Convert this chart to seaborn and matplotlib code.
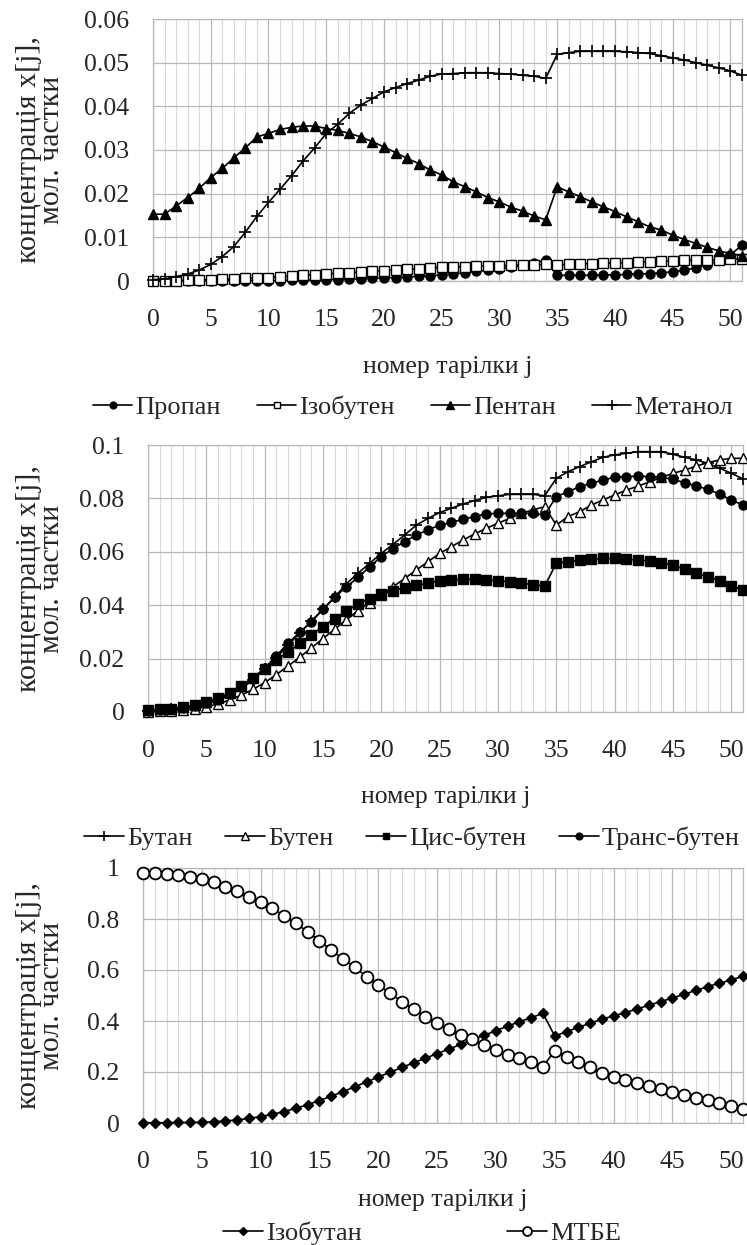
import matplotlib
matplotlib.use("Agg")
import matplotlib.pyplot as plt
from matplotlib.ticker import MultipleLocator, FixedLocator, FuncFormatter
from matplotlib.lines import Line2D
import seaborn as sns

sns.set_theme(style="white")
plt.rcParams["font.family"] = ["Liberation Serif", "DejaVu Serif"]

plates = list(range(52))
x_ticks = [0, 5, 10, 15, 20, 25, 30, 35, 40, 45, 50]

# panel 1
propan = [0.0000, 0.0000, 0.0000, 0.0001, 0.0001, 0.0001, 0.0001, 0.0001, 0.0001, 0.0001,
          0.0001, 0.0001, 0.0002, 0.0002, 0.0002, 0.0003, 0.0003, 0.0004, 0.0005, 0.0006,
          0.0007, 0.0008, 0.0009, 0.0011, 0.0012, 0.0014, 0.0016, 0.0019, 0.0022, 0.0025,
          0.0028, 0.0032, 0.0036, 0.0041, 0.0048, 0.0013, 0.0013, 0.0013, 0.0013, 0.0014,
          0.0014, 0.0015, 0.0016, 0.0017, 0.0019, 0.0021, 0.0025, 0.0030, 0.0037, 0.0047,
          0.0060, 0.0082]
izobuten = [0.0000, 0.0001, 0.0001, 0.0002, 0.0002, 0.0003, 0.0004, 0.0005, 0.0006, 0.0007,
            0.0008, 0.0010, 0.0011, 0.0013, 0.0014, 0.0016, 0.0018, 0.0019, 0.0021, 0.0023,
            0.0024, 0.0026, 0.0027, 0.0028, 0.0030, 0.0031, 0.0032, 0.0033, 0.0034, 0.0035,
            0.0035, 0.0036, 0.0037, 0.0037, 0.0038, 0.0037, 0.0038, 0.0039, 0.0040, 0.0041,
            0.0042, 0.0042, 0.0043, 0.0044, 0.0045, 0.0046, 0.0047, 0.0048, 0.0048, 0.0049,
            0.0050, 0.0050]
pentan = [0.0153, 0.0153, 0.0172, 0.0191, 0.0212, 0.0237, 0.0258, 0.0282, 0.0305, 0.0330,
          0.0338, 0.0347, 0.0352, 0.0355, 0.0355, 0.0349, 0.0345, 0.0338, 0.0330, 0.0319,
          0.0307, 0.0294, 0.0281, 0.0269, 0.0254, 0.0243, 0.0227, 0.0216, 0.0204, 0.0191,
          0.0181, 0.0169, 0.0160, 0.0149, 0.0140, 0.0216, 0.0204, 0.0193, 0.0181, 0.0170,
          0.0159, 0.0147, 0.0136, 0.0124, 0.0117, 0.0105, 0.0095, 0.0086, 0.0077, 0.0069,
          0.0063, 0.0058]
metanol = [0.0003, 0.0005, 0.0010, 0.0016, 0.0025, 0.0038, 0.0056, 0.0079, 0.0112, 0.0148,
           0.0180, 0.0210, 0.0241, 0.0275, 0.0305, 0.0338, 0.0359, 0.0384, 0.0403, 0.0418,
           0.0433, 0.0443, 0.0452, 0.0460, 0.0469, 0.0474, 0.0475, 0.0477, 0.0477, 0.0477,
           0.0475, 0.0474, 0.0471, 0.0469, 0.0464, 0.0519, 0.0523, 0.0526, 0.0526, 0.0526,
           0.0526, 0.0525, 0.0523, 0.0521, 0.0516, 0.0511, 0.0506, 0.0500, 0.0494, 0.0488,
           0.0481, 0.0471]

# panel 2
butan = [0.0005, 0.0007, 0.0010, 0.0015, 0.0022, 0.0030, 0.0044, 0.0063, 0.0088, 0.0120,
         0.0160, 0.0203, 0.0250, 0.0295, 0.0340, 0.0385, 0.0430, 0.0480, 0.0520, 0.0557,
         0.0594, 0.0628, 0.0663, 0.0700, 0.0725, 0.0747, 0.0763, 0.0779, 0.0792, 0.0804,
         0.0810, 0.0815, 0.0815, 0.0815, 0.0810, 0.0875, 0.0900, 0.0919, 0.0937, 0.0954,
         0.0963, 0.0969, 0.0975, 0.0975, 0.0975, 0.0965, 0.0954, 0.0944, 0.0931, 0.0913,
         0.0894, 0.0873]
buten = [0.0000, 0.0002, 0.0004, 0.0008, 0.0013, 0.0020, 0.0030, 0.0045, 0.0063, 0.0085,
         0.0110, 0.0140, 0.0172, 0.0205, 0.0240, 0.0275, 0.0310, 0.0345, 0.0380, 0.0410,
         0.0440, 0.0469, 0.0500, 0.0532, 0.0563, 0.0594, 0.0619, 0.0644, 0.0667, 0.0688,
         0.0707, 0.0725, 0.0744, 0.0757, 0.0769, 0.0700, 0.0732, 0.0750, 0.0775, 0.0794,
         0.0813, 0.0831, 0.0846, 0.0862, 0.0879, 0.0894, 0.0906, 0.0921, 0.0934, 0.0944,
         0.0950, 0.0950]
cis_buten = [0.0008, 0.0010, 0.0013, 0.0018, 0.0026, 0.0037, 0.0052, 0.0072, 0.0098, 0.0128,
             0.0162, 0.0195, 0.0225, 0.0258, 0.0290, 0.0320, 0.0350, 0.0378, 0.0405, 0.0425,
             0.0442, 0.0455, 0.0466, 0.0476, 0.0482, 0.0492, 0.0494, 0.0497, 0.0497, 0.0494,
             0.0492, 0.0488, 0.0484, 0.0476, 0.0472, 0.0557, 0.0563, 0.0569, 0.0572, 0.0575,
             0.0575, 0.0572, 0.0569, 0.0566, 0.0559, 0.0550, 0.0534, 0.0519, 0.0507, 0.0492,
             0.0472, 0.0457]
trans_buten = [0.0005, 0.0007, 0.0010, 0.0015, 0.0022, 0.0032, 0.0046, 0.0066, 0.0092, 0.0125,
               0.0165, 0.0210, 0.0258, 0.0298, 0.0338, 0.0385, 0.0429, 0.0469, 0.0504, 0.0544,
               0.0582, 0.0612, 0.0638, 0.0663, 0.0682, 0.0700, 0.0710, 0.0722, 0.0732, 0.0742,
               0.0744, 0.0744, 0.0744, 0.0744, 0.0738, 0.0807, 0.0825, 0.0844, 0.0856, 0.0869,
               0.0879, 0.0881, 0.0884, 0.0881, 0.0879, 0.0871, 0.0859, 0.0846, 0.0834, 0.0816,
               0.0794, 0.0775]

# panel 3
izobutan = [0.001, 0.001, 0.001, 0.002, 0.002, 0.003, 0.005, 0.008, 0.012, 0.018,
            0.025, 0.034, 0.045, 0.058, 0.072, 0.088, 0.105, 0.123, 0.142, 0.161,
            0.180, 0.199, 0.218, 0.236, 0.254, 0.272, 0.290, 0.308, 0.326, 0.344,
            0.362, 0.380, 0.397, 0.413, 0.430, 0.341, 0.358, 0.375, 0.391, 0.407,
            0.420, 0.433, 0.447, 0.462, 0.476, 0.490, 0.505, 0.520, 0.535, 0.548,
            0.561, 0.576]
mtbe = [0.979, 0.979, 0.977, 0.973, 0.966, 0.956, 0.944, 0.927, 0.910, 0.888,
        0.868, 0.842, 0.812, 0.783, 0.750, 0.715, 0.678, 0.643, 0.611, 0.574,
        0.541, 0.509, 0.476, 0.446, 0.417, 0.393, 0.367, 0.345, 0.328, 0.306,
        0.286, 0.267, 0.254, 0.240, 0.221, 0.284, 0.260, 0.240, 0.221, 0.197,
        0.182, 0.170, 0.158, 0.146, 0.134, 0.122, 0.111, 0.100, 0.090, 0.078,
        0.066, 0.054]

ylabel = "концентрація x[j],\nмол. частки"
xlabel = "номер тарілки j"
FS = 18.5
FS_LEG = 19
FS_YLAB = 21.5
W, H = 747, 1245

# marker styles: (marker, facecolor, size, edgewidth)
st_circle = ("o", "black", 6.5, 1.0)
st_osquare = ("s", "white", 6.5, 1.0)
st_tri = ("^", "black", 7.5, 1.0)
st_otri = ("^", "white", 7.5, 1.0)
st_plus = ("+", "black", 9, 1.2)
st_square = ("s", "black", 6.5, 1.0)
st_diam = ("D", "black", 5.5, 1.0)
st_ocircle = ("o", "white", 8.5, 1.3)

# box = (left, right, top, bottom) in pixels; xlab = centre of x title; leg = legend centre
panels = [
    dict(box=(153, 742, 19, 281), ymax=0.06, ystep=0.01, xlab=367,
         series=[("Пропан", propan, st_circle), ("Ізобутен", izobuten, st_osquare),
                 ("Пентан", pentan, st_tri), ("Метанол", metanol, st_plus)],
         leg=(413, 407), ncol=4, colsp=1.35),
    dict(box=(148, 743, 445, 712), ymax=0.1, ystep=0.02, xlab=797,
         series=[("Бутан", butan, st_plus), ("Бутен", buten, st_otri),
                 ("Цис-бутен", cis_buten, st_square), ("Транс-бутен", trans_buten, st_circle)],
         leg=(412, 838), ncol=4, colsp=1.25),
    dict(box=(143, 743, 868, 1123), ymax=1.0, ystep=0.2, xlab=1200,
         series=[("Ізобутан", izobutan, st_diam), ("МТБЕ", mtbe, st_ocircle)],
         leg=(422, 1233), ncol=2, colsp=5.5),
]

fig = plt.figure(figsize=(W / 100, H / 100), dpi=100)

for p in panels:
    l, r, t, b = p["box"]
    ax = fig.add_axes([l / W, 1 - b / H, (r - l) / W, (b - t) / H])
    handles = []
    for name, vals, (mk, fc, ms, mew) in p["series"]:
        sns.lineplot(x=plates, y=vals, ax=ax, color="black", linewidth=1.2,
                     marker=mk, markersize=ms, markerfacecolor=fc,
                     markeredgecolor="black", markeredgewidth=mew,
                     clip_on=False, zorder=3)
        handles.append(Line2D([], [], color="black", linewidth=1.2, marker=mk,
                              markersize=ms * 0.75, markerfacecolor=fc,
                              markeredgecolor="black", markeredgewidth=mew))
    ax.set_xlim(0, 51)
    ax.set_ylim(0, p["ymax"])
    ax.xaxis.set_major_locator(FixedLocator(x_ticks))
    ax.xaxis.set_minor_locator(MultipleLocator(1))
    n = int(round(p["ymax"] / p["ystep"]))
    ax.yaxis.set_major_locator(FixedLocator([i * p["ystep"] for i in range(n + 1)]))
    ax.yaxis.set_major_formatter(FuncFormatter(lambda v, pos: f"{v:g}"))
    ax.grid(which="minor", axis="x", color="#d9d9d9", linewidth=0.8)
    ax.grid(which="major", axis="both", color="#b8b8b8", linewidth=0.9)
    ax.set_axisbelow(True)
    for s in ax.spines.values():
        s.set_color("#b8b8b8")
        s.set_linewidth(0.9)
    ax.tick_params(axis="both", which="both", length=0, labelsize=FS)
    ax.tick_params(axis="y", pad=17)
    ax.tick_params(axis="x", pad=20)
    ax.set_xlabel(xlabel, fontsize=FS, va="center")
    ax.xaxis.set_label_coords(0.5, (b - p["xlab"]) / (b - t))
    ax.set_ylabel("")
    fig.text(41 / W, 1 - (t + b) / 2 / H, ylabel, rotation=90, ha="center",
             va="center", multialignment="center", fontsize=FS_YLAB, linespacing=0.85)
    lx, ly = p["leg"]
    fig.legend(handles, [s[0] for s in p["series"]], loc="center",
               bbox_to_anchor=(lx / W, 1 - ly / H), ncol=p["ncol"], frameon=False,
               fontsize=FS_LEG, handlelength=1.5, handletextpad=0.12,
               columnspacing=p["colsp"], borderpad=0)

fig.savefig("out.png", dpi=100)
